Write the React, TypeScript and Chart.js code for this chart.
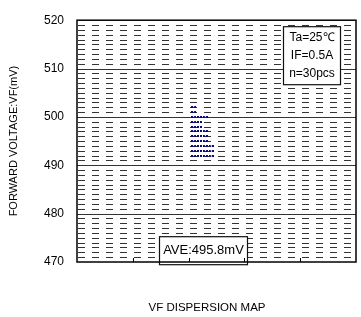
import React, { useEffect, useRef } from "react";
import { Chart, registerables } from "chart.js";

Chart.register(...registerables);

// ---- data ----
const yMin = 470;
const yMax = 520;
const yMajorStep = 10;
const yMinorStep = 1;
const xMin = 0;
const xMax = 5;
const xTickValues = [1, 2, 3, 4];

// measured forward voltages (mV), one per sample, and the stack column of each dot
const dotValues = [
  502,
  501,
  500, 500, 500,
  499, 499,
  498, 498,
  497, 497, 497,
  496, 496, 496,
  495, 495, 495,
  494, 494, 494, 494,
  493, 493, 493, 493,
  492, 492, 492, 492,
];
const dotColumns = [
  0,
  0,
  0, 1, 2,
  0, 1,
  0, 1,
  0, 1, 2,
  0, 1, 2,
  0, 1, 2,
  0, 1, 2, 3,
  0, 1, 2, 3,
  0, 1, 2, 3,
];
const dotX0 = 2.09;
const dotXStep = 0.105;

const conditionLines = ["Ta=25\u2103", "IF=0.5A", "n=30pcs"];
const aveLabel = "AVE:495.8mV";
const yTitle = "FORWARD VOLTAGE:VF(mV)";
const xTitle = "VF DISPERSION MAP";

const FONT = "'Liberation Sans', Arial, Helvetica, sans-serif";
const DOT_COLOR = "#0a0a80";

function makeDotGlyph(): HTMLCanvasElement {
  const c = document.createElement("canvas");
  c.width = 5;
  c.height = 2;
  const g = c.getContext("2d")!;
  g.fillStyle = DOT_COLOR;
  g.fillRect(0, 0, 2, 2);
  g.fillRect(3, 0, 2, 2);
  return c;
}

function drawBox(
  ctx: CanvasRenderingContext2D,
  l: number,
  t: number,
  w: number,
  h: number,
  lines: string[],
  fontSize: number,
  firstY: number,
  gap: number
) {
  ctx.save();
  ctx.setLineDash([]);
  ctx.fillStyle = "#fff";
  ctx.fillRect(l, t, w, h);
  ctx.strokeStyle = "#111";
  ctx.lineWidth = 1.2;
  ctx.strokeRect(l + 0.5, t + 0.5, w, h);
  ctx.fillStyle = "#000";
  ctx.font = `${fontSize}px ${FONT}`;
  ctx.textAlign = "center";
  ctx.textBaseline = "middle";
  lines.forEach((s, i) => ctx.fillText(s, l + w / 2 + 0.5, t + firstY + i * gap));
  ctx.restore();
}

const vfPlugin = {
  id: "vfPlugin",
  beforeDatasetsDraw(chart: any) {
    const { ctx, chartArea: a, scales } = chart;
    const y = scales.y;
    ctx.save();
    ctx.lineWidth = 1;
    for (let v = yMin + yMinorStep; v < yMax; v += yMinorStep) {
      const py = Math.round(y.getPixelForValue(v)) + 0.5;
      const major = v % yMajorStep === 0;
      ctx.beginPath();
      if (major) {
        ctx.setLineDash([]);
        ctx.strokeStyle = "#333";
      } else {
        ctx.setLineDash([7, 7]);
        ctx.lineDashOffset = -1;
        ctx.strokeStyle = "#333";
      }
      ctx.moveTo(a.left, py);
      ctx.lineTo(a.right, py);
      ctx.stroke();
    }
    ctx.restore();
  },
  afterDatasetsDraw(chart: any) {
    const { ctx, chartArea: a, scales } = chart;
    const x = scales.x;
    // condition box
    drawBox(ctx, a.right - 73, a.top + 6, 57, 58, conditionLines, 12, 11, 18);
    // average box
    drawBox(ctx, a.left + 82, a.top + 216, 88, 28, [aveLabel], 13, 14, 0);
    ctx.save();
    // x ticks (inward)
    ctx.strokeStyle = "#000";
    ctx.lineWidth = 1;
    xTickValues.forEach((t) => {
      const px = Math.round(x.getPixelForValue(t)) + 0.5;
      ctx.beginPath();
      ctx.moveTo(px, a.bottom);
      ctx.lineTo(px, a.bottom - 4);
      ctx.stroke();
    });
    // frame
    ctx.lineWidth = 1.5;
    ctx.strokeStyle = "#000";
    ctx.strokeRect(a.left, a.top, a.right - a.left, a.bottom - a.top);
    // x title
    ctx.fillStyle = "#000";
    ctx.font = `11.5px ${FONT}`;
    ctx.textAlign = "center";
    ctx.textBaseline = "middle";
    ctx.fillText(xTitle, a.left + 130, 308);
    ctx.restore();
  },
};

export default function App() {
  const ref = useRef<HTMLCanvasElement | null>(null);

  useEffect(() => {
    if (!ref.current) return;
    const glyph = makeDotGlyph();
    const points = dotValues.map((v, i) => ({ x: dotX0 + dotColumns[i] * dotXStep, y: v }));
    const chart = new Chart(ref.current, {
      type: "scatter",
      data: {
        datasets: [
          {
            data: points,
            pointStyle: glyph as any,
            pointRadius: 2,
            backgroundColor: DOT_COLOR,
            borderColor: DOT_COLOR,
          },
        ],
      },
      options: {
        responsive: false,
        animation: false,
        events: [],
        layout: { padding: { left: 0, top: 11, right: 5, bottom: 55 } },
        plugins: { legend: { display: false }, tooltip: { enabled: false }, title: { display: false } },
        scales: {
          x: { type: "linear", min: xMin, max: xMax, display: false },
          y: {
            type: "linear",
            min: yMin,
            max: yMax,
            afterFit: (s: any) => {
              s.width = 77;
            },
            grid: { display: false, drawTicks: false },
            border: { display: false },
            ticks: {
              stepSize: yMajorStep,
              padding: 13,
              color: "#000",
              font: { family: FONT, size: 12 },
            },
            title: {
              display: true,
              text: yTitle,
              color: "#000",
              font: { family: FONT, size: 11 },
              padding: { top: 7, bottom: 0 },
            },
          },
        },
      },
      plugins: [vfPlugin],
    });
    return () => chart.destroy();
  }, []);

  return (
    <div style={{ position: "fixed", left: 0, top: 0, width: 361, height: 317, background: "#fff" }}>
      <canvas ref={ref} width={361} height={317} style={{ display: "block" }} />
    </div>
  );
}
